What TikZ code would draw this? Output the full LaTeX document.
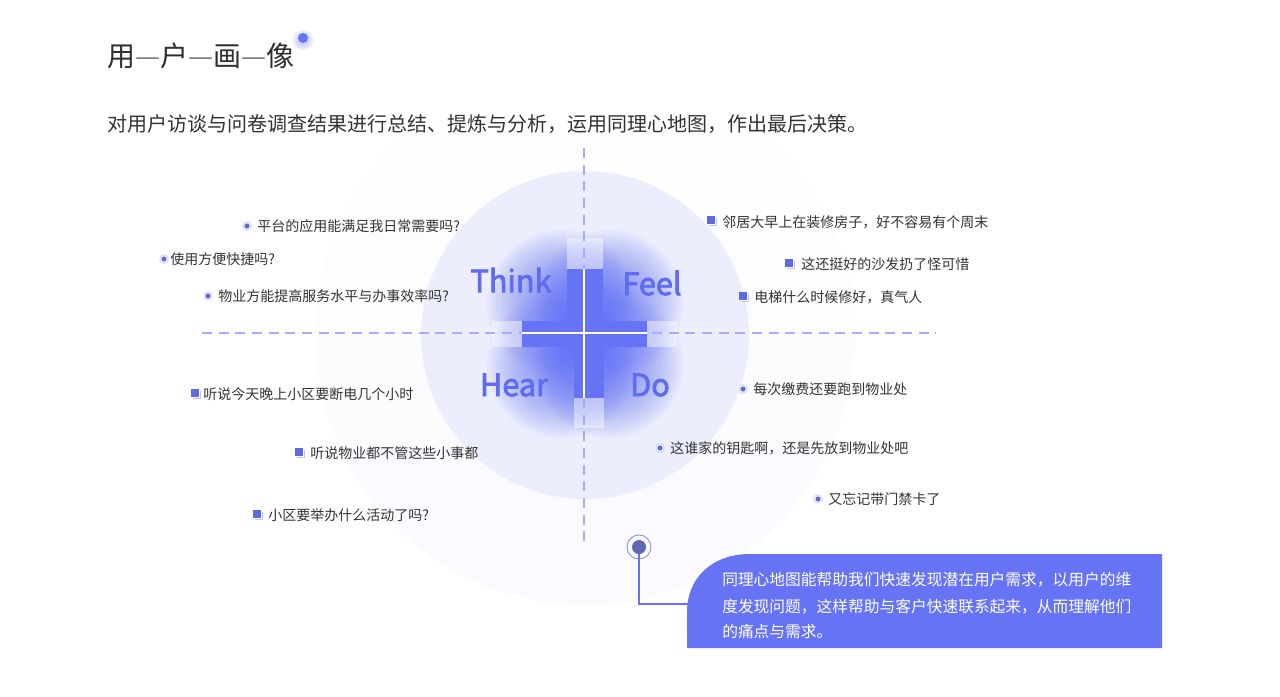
\documentclass[tikz,border=0pt]{standalone}
\usepackage{fontspec}
\setmainfont{Noto Sans CJK SC}
\newfontfamily\quadfont{Noto Sans CJK SC}[FakeBold=2.5]
\definecolor{brand}{HTML}{6673F5}
\definecolor{dashc}{HTML}{A7AEF6}
\definecolor{innerc}{HTML}{ECEEFD}
\definecolor{outermid}{HTML}{F4F5FE}
\definecolor{outerbot}{HTML}{FAFAFF}
\definecolor{txt}{HTML}{333333}
\definecolor{lightsq}{HTML}{BCC3FA}
\definecolor{ringc}{HTML}{D3D7FC}
\definecolor{markc}{HTML}{6168B2}
\definecolor{markring}{HTML}{8C94E0}
\definecolor{quad}{HTML}{5F6CF0}
\tikzset{
  item/.style={anchor=west, inner sep=0pt, text=txt, font=\fontsize{10.5}{12}\selectfont},
  quadlbl/.style={inner sep=0pt, text=quad, font=\quadfont\fontsize{23}{23}\selectfont},
  calltxt/.style={anchor=west, inner sep=0pt, text=white, font=\fontsize{11.8}{14}\selectfont},
  dashline/.style={draw=dashc, line width=1.5pt, dash pattern=on 7.5pt off 5pt},
  rbul/.pic={
    \fill[ringc] (0,0) circle (4.8);
    \fill[white] (0,0) circle (3.6);
    \fill[brand!90!black] (0,0) circle (2.6);
  },
  sbul/.pic={
    \fill[lightsq] (-2.5,-2.5) rectangle (6,6);
    \fill[white] (-3.5,-3.5) rectangle (4.5,4.5);
    \fill[brand!92!black] (-4,-4) rectangle (4,4);
  },
  glow/.pic={
    \foreach \r in {74,71,...,2} \fill[brand, opacity=0.052] (0,0) circle (\r);
  }
}
\begin{document}
\begin{tikzpicture}[x=0.75pt,y=-0.75pt]
\useasboundingbox (0,0) rectangle (1280,696);
\fill[white] (0,0) rectangle (1280,696);

% circles
\shade[top color=white, middle color=outermid, bottom color=outerbot] (585,335) circle (270);
\fill[innerc] (585,335) circle (164);

% title
\node[anchor=west, inner sep=0pt, text=txt!90!black, font=\fontsize{21}{21}\selectfont] (title) at (107,56)
  {用{\color{gray}—}户{\color{gray}—}画{\color{gray}—}像};
\foreach \r in {11,10,...,6} \fill[brand, opacity=0.05] (303,40) circle (\r);
\node[circle, fill=brand, inner sep=0pt, minimum size=7.5pt] (tdot) at (303,38) {};

\node[anchor=west, inner sep=0pt, text=txt, font=\fontsize{15}{15}\selectfont] (sub) at (107,124)
  {对用户访谈与问卷调查结果进行总结、提炼与分析，运用同理心地图，作出最后决策。};

% glows
\pic at (561,304) {glow};
\pic at (609,304) {glow};
\pic at (561,364) {glow};
\pic at (609,364) {glow};

% light extension boxes
\fill[white, opacity=0.45] (567,238) rectangle (603,269);
\fill[white, opacity=0.45] (492,321) rectangle (522,347);
\fill[white, opacity=0.45] (647,321) rectangle (677,347);
\fill[white, opacity=0.45] (574,398) rectangle (604,428);

% dashed axes
\coordinate (vtop) at (584,148);
\coordinate (vbot) at (584,546);
\coordinate (hl) at (202,333);
\coordinate (hr) at (936,333);
\draw[dashline] (vtop) -- (vbot);
\draw[dashline] (hl) -- (hr);

% cross
\fill[brand] (567,269) rectangle (603,321);
\fill[brand] (522,321) rectangle (647,347);
\fill[brand] (574,347) rectangle (604,398);
\draw[white, line width=1.6pt] (584,269) -- (584,398);
\draw[white, line width=1.6pt] (522,333) -- (647,333);

% quadrant labels
\node[quadlbl] (think) at (511,280) {Think};
\node[quadlbl] (feel) at (652,283) {Feel};
\node[quadlbl] (hear) at (514,385) {Hear};
\node[quadlbl] (do) at (650,385) {Do};

% items
\pic at (247,226) {rbul};
\node[item] (i1) at (257,226) {平台的应用能满足我日常需要吗?};
\pic at (164,259) {rbul};
\node[item] (i2) at (170,259) {使用方便快捷吗?};
\pic at (208,296) {rbul};
\node[item] (i3) at (218,296) {物业方能提高服务水平与办事效率吗?};

\pic at (711,220) {sbul};
\node[item] (i4) at (722,222) {邻居大早上在装修房子，好不容易有个周末};
\pic at (789,263) {sbul};
\node[item] (i5) at (801,264) {这还挺好的沙发扔了怪可惜};
\pic at (743,296) {sbul};
\node[item] (i6) at (754,297) {电梯什么时候修好，真气人};

\pic at (195,393) {sbul};
\node[item] (i7) at (203,394) {听说今天晚上小区要断电几个小时};
\pic at (299,452) {sbul};
\node[item] (i8) at (310,453) {听说物业都不管这些小事都};
\pic at (257,514) {sbul};
\node[item] (i9) at (268,515) {小区要举办什么活动了吗?};

\pic at (743,389) {rbul};
\node[item] (i10) at (753,389) {每次缴费还要跑到物业处};
\pic at (660,448) {rbul};
\node[item] (i11) at (670,448) {这谁家的钥匙啊，还是先放到物业处吧};
\pic at (818,499) {rbul};
\node[item] (i12) at (828,499) {又忘记带门禁卡了};

% callout
\fill[brand] (687,648) -- (687,612) .. controls (687,578) and (712,554) .. (750,554) -- (1162,554) -- (1162,648) -- cycle;
\node[calltxt] (c1) at (722,580) {同理心地图能帮助我们快速发现潜在用户需求，以用户的维};
\node[calltxt] (c2) at (722,607) {度发现问题，这样帮助与客户快速联系起来，从而理解他们};
\node[calltxt] (c3) at (722,631) {的痛点与需求。};

% marker and connector
\coordinate (elbow) at (639,604);
\coordinate (cin) at (688,604);
\node[circle, draw=markring, line width=0.7pt, inner sep=0pt, minimum size=18pt] (ring) at (639,547) {};
\draw[brand, line width=1.2pt] (ring.center) -- (elbow) -- (cin);
\node[circle, fill=markc, inner sep=0pt, minimum size=10.5pt] (mk) at (639,547) {};
\end{tikzpicture}
\end{document}
